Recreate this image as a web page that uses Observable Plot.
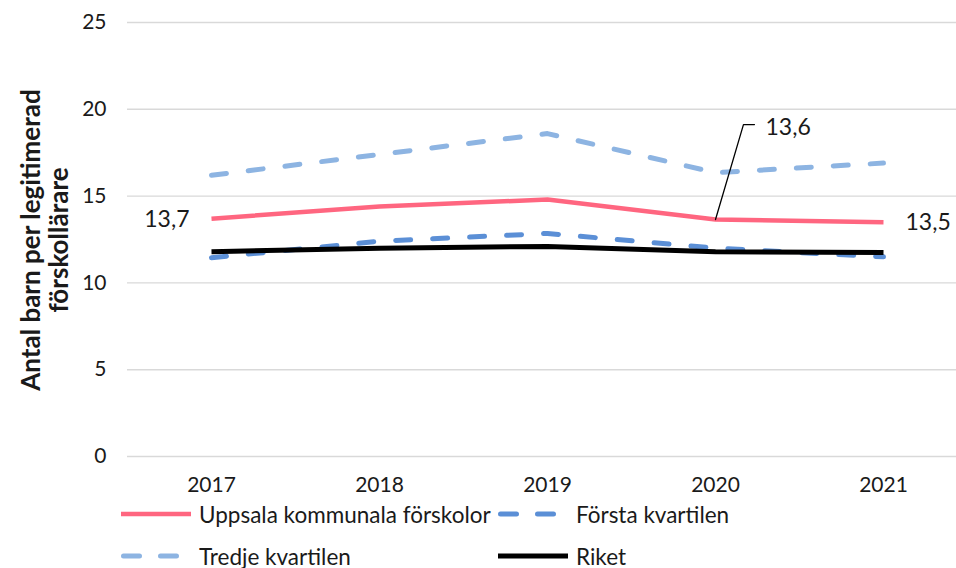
<!DOCTYPE html>
<html>
<head>
<meta charset="utf-8">
<script src="https://cdn.jsdelivr.net/npm/d3@7"></script>
<script src="https://cdn.jsdelivr.net/npm/@observablehq/plot@0.6"></script>
<style>
  html, body { margin: 0; padding: 0; background: #fff; }
  #wrap { position: relative; width: 956px; height: 568px; font-family: Lato, "Noto Sans", sans-serif; color: #1a1a1a; overflow: hidden; }
  #ylabel { position: absolute; left: 44px; top: 240px; transform: translate(-50%, -50%) rotate(-90deg); font-weight: bold; font-size: 26px; line-height: 28px; text-align: center; white-space: nowrap; }
  #legend { position: absolute; left: 0; top: 496px; width: 956px; height: 72px; }
  .item { position: absolute; display: flex; align-items: center; font-size: 22.5px; height: 30px; }
  .item svg { margin-right: 6px; }
</style>
</head>
<body>
<div id="wrap">
  <div id="chart"></div>
  <div id="ylabel">Antal barn per legitimerad<br>förskollärare</div>
  <div id="legend"></div>
</div>
<script>
const years = ["2017", "2018", "2019", "2020", "2021"];
const uppsala = [13.7, 14.4, 14.8, 13.65, 13.5];
const forsta  = [11.45, 12.4, 12.85, 12.0, 11.5];
const tredje  = [16.2, 17.4, 18.6, 16.35, 16.9];
const riket   = [11.8, 12.0, 12.1, 11.8, 11.75];
const yTicks  = [0, 5, 10, 15, 20, 25];
const seriesNames = ["Uppsala kommunala förskolor", "Första kvartilen", "Tredje kvartilen", "Riket"];
const labelYears = ["2017", "2020", "2021"];
const labelTexts = ["13,7", "13,6", "13,5"];

const styles = {
  "Uppsala kommunala förskolor": {stroke: "#FF6680", width: 4.5, dash: null},
  "Första kvartilen": {stroke: "#5B8FD6", width: 5, dash: "15,22"},
  "Tredje kvartilen": {stroke: "#8DB4E2", width: 5, dash: "15,22"},
  "Riket": {stroke: "#000000", width: 5, dash: null}
};
const seriesValues = [uppsala, forsta, tredje, riket];
const rows = seriesNames.flatMap((s, i) => years.map((yr, j) => ({series: s, year: yr, value: seriesValues[i][j]})));
const uppsalaRow = yr => ({year: yr, value: uppsala[years.indexOf(yr)]});
const labels = labelYears.map((yr, i) => ({...uppsalaRow(yr), text: labelTexts[i]}));

const drawOrder = ["Tredje kvartilen", "Första kvartilen", "Uppsala kommunala förskolor", "Riket"];
const lineMarks = drawOrder.map(s => Plot.line(rows.filter(r => r.series === s), {
  x: "year", y: "value", stroke: styles[s].stroke, strokeWidth: styles[s].width,
  strokeDasharray: styles[s].dash, strokeLinecap: styles[s].dash ? "round" : "butt", strokeLinejoin: "round"
}));

// leader line for 13,6 label: custom vector shape
const theta = 16.4, leadLen = 99, hook = 11;
const leaderShape = {
  draw(context, l) {
    const t = theta * Math.PI / 180;
    context.moveTo(0, 0);
    context.lineTo(0, -l);
    context.lineTo(hook * Math.cos(t), -l - hook * Math.sin(t));
  }
};

const chart = Plot.plot({
  width: 956,
  height: 496,
  marginLeft: 127,
  marginRight: 0,
  marginTop: 22,
  marginBottom: 40,
  style: {fontFamily: "Lato, 'Noto Sans', sans-serif", fontSize: "21px", color: "#1a1a1a", background: "transparent"},
  x: {type: "point", domain: years, range: [210, 883], padding: 0, label: null},
  y: {domain: [0, 25], label: null},
  marks: [
    Plot.ruleY(yTicks, {stroke: "#d9d9d9", strokeWidth: 1.4}),
    Plot.axisY(yTicks, {tickSize: 0, tickPadding: 21, fontSize: 21, label: null}),
    Plot.axisX(years, {tickSize: 0, tickPadding: 21, fontSize: 21, label: null}),
    ...lineMarks,
    Plot.vector(labels.filter(d => d.year === "2020"), {x: "year", y: "value", length: leadLen, rotate: theta, anchor: "start", shape: leaderShape, stroke: "#000", strokeWidth: 1.3}),
    Plot.text(labels.filter(d => d.year === "2017"), {x: "year", y: "value", text: "text", dx: -22, dy: 1, textAnchor: "end", fontSize: 23, fill: "#1a1a1a"}),
    Plot.text(labels.filter(d => d.year === "2020"), {x: "year", y: "value", text: "text", dx: 50, dy: -92, textAnchor: "start", fontSize: 23, fill: "#1a1a1a"}),
    Plot.text(labels.filter(d => d.year === "2021"), {x: "year", y: "value", text: "text", dx: 22, dy: 0, textAnchor: "start", fontSize: 23, fill: "#1a1a1a"})
  ]
});
document.getElementById("chart").appendChild(chart);

// legend
const legendPos = [
  {left: 121, top: 3},
  {left: 498, top: 3},
  {left: 121, top: 45},
  {left: 498, top: 45}
];
const legend = document.getElementById("legend");
seriesNames.forEach((s, i) => {
  const st = styles[s];
  const div = document.createElement("div");
  div.className = "item";
  div.style.left = legendPos[i].left + "px";
  div.style.top = legendPos[i].top + "px";
  const svgNS = "http://www.w3.org/2000/svg";
  const svg = document.createElementNS(svgNS, "svg");
  svg.setAttribute("width", 72); svg.setAttribute("height", 10);
  const ln = document.createElementNS(svgNS, "line");
  const cap = st.dash ? 2.5 : 0;
  ln.setAttribute("x1", cap); ln.setAttribute("x2", st.dash ? 72 : 70);
  ln.setAttribute("y1", 5); ln.setAttribute("y2", 5);
  ln.setAttribute("stroke", st.stroke); ln.setAttribute("stroke-width", st.width);
  if (st.dash) { ln.setAttribute("stroke-dasharray", "16,21"); ln.setAttribute("stroke-linecap", "round"); }
  svg.appendChild(ln);
  div.appendChild(svg);
  const span = document.createElement("span");
  span.textContent = s;
  div.appendChild(span);
  legend.appendChild(div);
});
</script>
</body>
</html>
